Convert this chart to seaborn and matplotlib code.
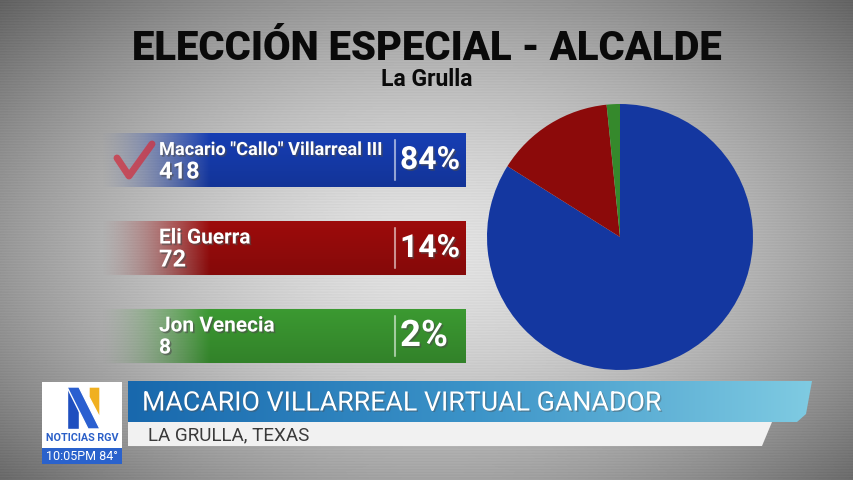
import numpy as np
import matplotlib.pyplot as plt
import matplotlib.colors as mcolors
import matplotlib.patheffects as pe
from matplotlib.patches import Polygon, Rectangle
import seaborn as sns

# data
candidates = ['Macario "Callo" Villarreal III', 'Eli Guerra', 'Jon Venecia']
votes = [418, 72, 8]
percents = ['84%', '14%', '2%']
colors = ['#1437a0', '#8c0a0a', '#35892c']

title = 'ELECCIÓN ESPECIAL - ALCALDE'
subtitle = 'La Grulla'
headline = 'MACARIO VILLARREAL VIRTUAL GANADOR'
place = 'LA GRULLA, TEXAS'

sns.set_theme(style='white')
plt.rcParams['font.family'] = ['Roboto', 'DejaVu Sans']

W, H = 854, 480
fig = plt.figure(figsize=(8.54, 4.8), dpi=100)
bg = fig.add_axes([0, 0, 1, 1])
bg.axis('off')
renderer = fig.canvas.get_renderer()


def fit(t, width, cap=None):
    # scale font so the text spans the given pixel width
    w = t.get_window_extent(renderer).width
    size = t.get_fontsize() * width / w
    if cap is not None:
        size = min(size, cap)
    t.set_fontsize(size)


# brushed grey background
yy, xx = np.mgrid[0:H, 0:W]
d = np.sqrt(((xx - 430) / 540) ** 2 + ((yy - 250) / 320) ** 2)
shade = 0.88 - 0.42 * d ** 1.6 + 0.012 * np.sin(yy * 2.3)
bg.imshow(np.clip(shade, 0, 1), cmap='gray', vmin=0, vmax=1,
          extent=(0, W, H, 0), aspect='auto')

t = bg.text(427, 48, title, ha='center', va='center', fontsize=30,
            fontweight='black', color='#0a0a0a')
fit(t, 590)
t = bg.text(427, 80, subtitle, ha='center', va='center', fontsize=16,
            fontweight='bold', color='#0a0a0a')
fit(t, 92)


def panel(y0, h, color, x0=100, x1=466):
    rgb = np.array(mcolors.to_rgb(color))
    n = 300
    a = np.clip(np.linspace(0, 1, n) / 0.3, 0, 1) ** 1.4
    img = np.zeros((40, n, 4))
    vert = np.linspace(1.12, 0.95, 40)[:, None, None]
    img[..., :3] = np.clip(rgb * vert, 0, 1)
    img[..., 3] = a
    bg.imshow(img, extent=(x0, x1, y0 + h, y0), aspect='auto',
              interpolation='bilinear')
    bg.plot([395, 395], [y0 + 7, y0 + h - 7], color='white', alpha=0.55, lw=1.5)


shadow = [pe.SimplePatchShadow(offset=(1.2, -1.2), alpha=0.6), pe.Normal()]
tops = [133, 221, 309]
name_widths = [224, 113, 137]
count_widths = [46, 29, 12]
for name, v, pct, c, y0, nw, cw in zip(candidates, votes, percents, colors,
                                       tops, name_widths, count_widths):
    panel(y0, 54, c)
    t = bg.text(159, y0 + 17, name, ha='left', va='center', fontsize=14,
                fontweight='bold', color='white', path_effects=shadow)
    fit(t, nw, cap=15)
    t = bg.text(159, y0 + 39, str(v), ha='left', va='center', fontsize=16,
                fontweight='bold', color='white', path_effects=shadow)
    fit(t, cw, cap=17)
    t = bg.text(400, y0 + 27, pct, ha='left', va='center', fontsize=25,
                fontweight='bold', color='white', path_effects=shadow)
    fit(t, 60 if len(pct) == 3 else 48)

# winner check mark
bg.plot([117, 129, 152], [158, 176, 144], color='#d03040', lw=5, alpha=0.75,
        solid_capstyle='round', solid_joinstyle='round')

# lower third
banner = Polygon([(128, 381), (812, 381), (806, 414), (797, 422), (128, 422)],
                 closed=True, facecolor='none', edgecolor='none')
bg.add_patch(banner)
grad = np.zeros((2, 256, 3))
grad[:] = np.array([mcolors.to_rgb(c) for c in
                    sns.blend_palette(['#1868ad', '#3b93c8', '#7fcbe2'], 256)])
im = bg.imshow(grad, extent=(128, 812, 422, 381), aspect='auto',
               interpolation='bilinear')
im.set_clip_path(banner)
t = bg.text(142, 403, headline, ha='left', va='center', fontsize=24,
            fontweight='normal', color='white',
            path_effects=[pe.SimplePatchShadow(offset=(1, -1), alpha=0.4), pe.Normal()])
fit(t, 520)

strip = Polygon([(128, 422), (772, 422), (762, 446), (128, 446)],
                closed=True, facecolor='#f1f1f1', edgecolor='none')
bg.add_patch(strip)
t = bg.text(148, 435, place, ha='left', va='center', fontsize=11, color='#3a3a3a')
fit(t, 162)

# station bug
bg.add_patch(Rectangle((42, 382), 80, 66, facecolor='white', edgecolor='none'))
bg.add_patch(Rectangle((42, 448), 80, 16, facecolor='#2a62cc', edgecolor='none'))
bg.add_patch(Polygon([(67, 387), (79, 387), (79, 429), (67, 429)], facecolor='#1f4fbf'))
bg.add_patch(Polygon([(67, 387), (79, 387), (100, 429), (88, 429)], facecolor='#2a5fd0'))
bg.add_patch(Polygon([(89, 387), (100, 387), (100, 418), (89, 397)], facecolor='#f0b020'))
t = bg.text(82, 438, 'NOTICIAS RGV', ha='center', va='center', fontsize=6.5,
            fontweight='bold', color='#2a5fc8')
fit(t, 72)
t = bg.text(82, 456, '10:05PM 84°', ha='center', va='center', fontsize=7.5,
            color='white')
fit(t, 72)

bg.set_xlim(0, W)
bg.set_ylim(H, 0)

# pie
ax = fig.add_axes([487 / W, (H - 370) / H, 266 / W, 266 / H])
ax.pie(votes, colors=colors, startangle=90, counterclock=False,
       wedgeprops=dict(linewidth=0))
ax.set_xlim(-1, 1)
ax.set_ylim(-1, 1)
ax.set_aspect('equal')

fig.savefig('out.png', dpi=100)
